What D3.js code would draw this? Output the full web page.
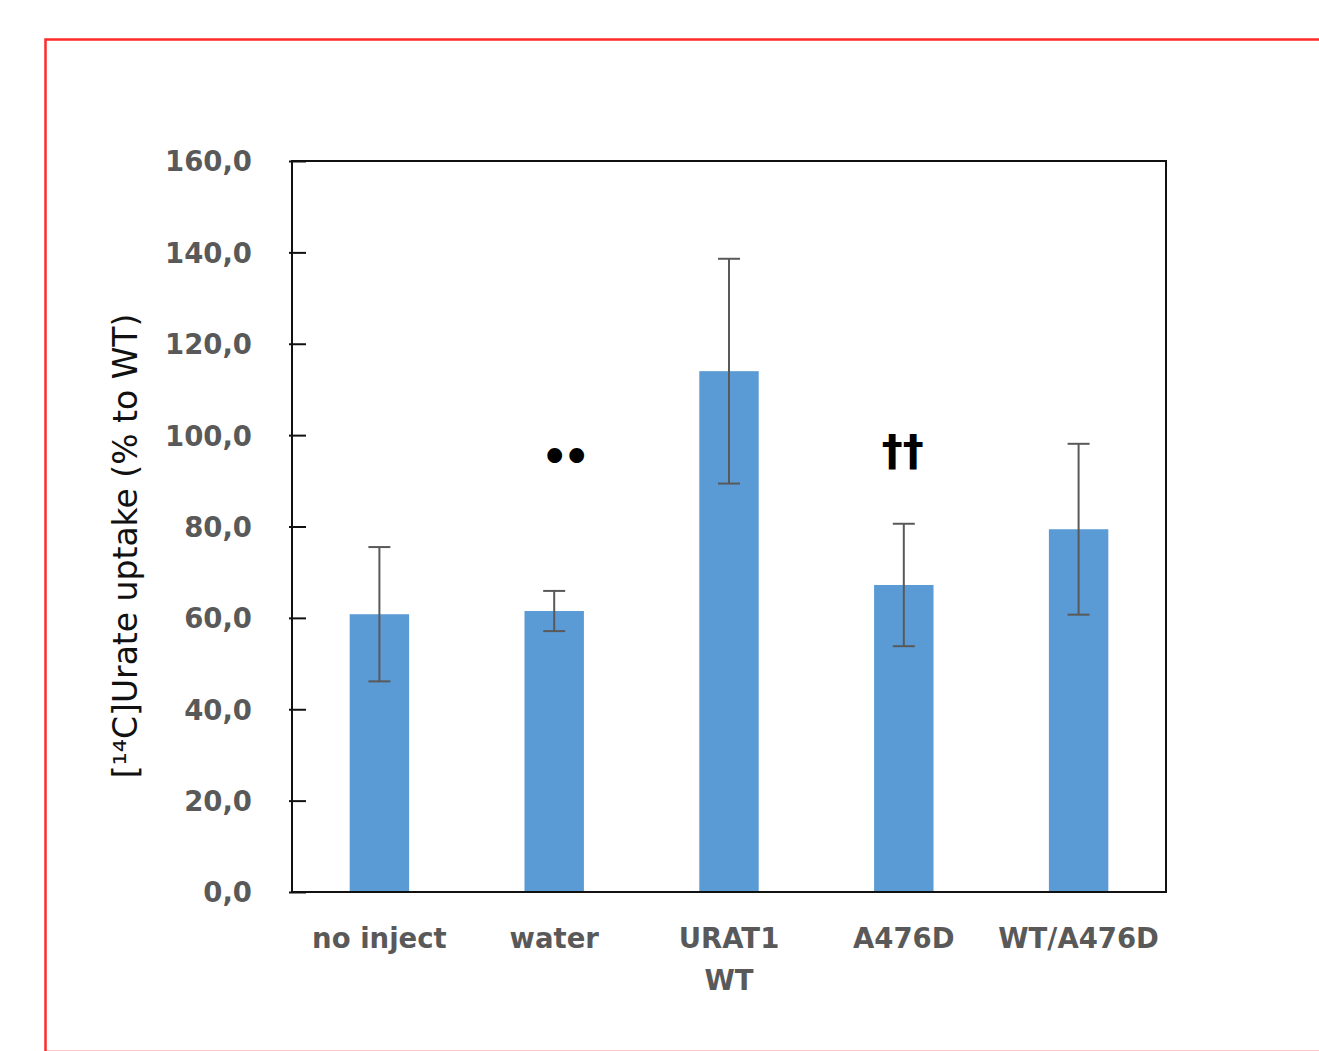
<!DOCTYPE html>
<html>
<head>
<meta charset="utf-8">
<script src="https://cdn.jsdelivr.net/npm/d3@7"></script>
<style>
  html, body { margin: 0; padding: 0; background: #fff; }
  svg { display: block; }
</style>
</head>
<body>
<svg id="chart" width="1319" height="1051"></svg>
<script>
// ---- data ----
const categories = ["no inject", "water", "URAT1\nWT", "A476D", "WT/A476D"];
const means = [60.8, 61.5, 114.0, 67.2, 79.4];
const errors = [14.7, 4.4, 24.6, 13.4, 18.7];
const yTicks = [0, 20, 40, 60, 80, 100, 120, 140, 160];
const yTickLabels = ["0,0", "20,0", "40,0", "60,0", "80,0", "100,0", "120,0", "140,0", "160,0"];
const annotationCats = ["water", "A476D"];
const annotationText = ["••", "††"];
const annotationValues = [95.3, 96.6];
const yTitle = "[¹⁴C]Urate uptake (% to WT)";

// ---- layout ----
const svg = d3.select("#chart");
const plot = { left: 292, right: 1166, top: 161, bottom: 892 };
const keys = categories.slice();

const x = d3.scaleBand().domain(keys).range([plot.left, plot.right])
  .paddingInner(0.66).paddingOuter(0.33);
const y = d3.scaleLinear().domain([0, 160]).range([plot.bottom, plot.top]);

const FONT = "'DejaVu Sans', 'Liberation Sans', Arial, sans-serif";
const GRAY = "#595959";

// red outer border
svg.append("rect")
  .attr("x", 45.5).attr("y", 39.5).attr("width", 1310).attr("height", 1012.5)
  .attr("fill", "none").attr("stroke", "#ff2a2a").attr("stroke-width", 2.5);

// bars
svg.append("g").selectAll("rect").data(means).join("rect")
  .attr("x", (d, i) => x(keys[i]))
  .attr("y", d => y(d))
  .attr("width", x.bandwidth())
  .attr("height", d => y(0) - y(d))
  .attr("fill", "#5b9bd5");

// error bars
const eb = svg.append("g").attr("stroke", GRAY).attr("stroke-width", 2).attr("fill", "none");
means.forEach((m, i) => {
  const cx = x(keys[i]) + x.bandwidth() / 2;
  const hi = y(m + errors[i]), lo = y(m - errors[i]);
  eb.append("line").attr("x1", cx).attr("x2", cx).attr("y1", hi).attr("y2", lo);
  eb.append("line").attr("x1", cx - 11).attr("x2", cx + 11).attr("y1", hi).attr("y2", hi);
  eb.append("line").attr("x1", cx - 11).attr("x2", cx + 11).attr("y1", lo).attr("y2", lo);
});

// y axis (ticks inside)
const yAxis = d3.axisLeft(y).tickValues(yTicks)
  .tickFormat((d, i) => yTickLabels[i]).tickSizeInner(-14).tickSizeOuter(0).tickPadding(40);
const gy = svg.append("g").attr("transform", `translate(${plot.left},0)`).call(yAxis);
gy.select(".domain").remove();
gy.selectAll(".tick line").attr("stroke", "#111").attr("stroke-width", 2).attr("x1", -3);
gy.selectAll(".tick text")
  .attr("fill", GRAY).attr("font-family", FONT).attr("font-weight", "bold")
  .attr("font-size", 27.5).attr("dy", "0.36em");

// plot frame
svg.append("rect")
  .attr("x", plot.left).attr("y", plot.top)
  .attr("width", plot.right - plot.left).attr("height", plot.bottom - plot.top)
  .attr("fill", "none").attr("stroke", "#111").attr("stroke-width", 2);

// x labels
const xl = svg.append("g");
categories.forEach((c, i) => {
  const cx = x(keys[i]) + x.bandwidth() / 2;
  const t = xl.append("text")
    .attr("x", cx)
    .attr("y", 948)
    .attr("text-anchor", "middle")
    .attr("fill", GRAY).attr("font-family", FONT).attr("font-weight", "bold")
    .attr("font-size", 27.5);
  c.split("\n").forEach((line, j) => {
    t.append("tspan").attr("x", cx).attr("dy", j === 0 ? 0 : 42).text(line);
  });
});

// y title
svg.append("text")
  .attr("transform", `translate(137,546) rotate(-90)`)
  .attr("text-anchor", "middle")
  .attr("fill", "#111").attr("font-family", FONT)
  .attr("font-size", 33)
  .text(yTitle);

// annotations
annotationCats.forEach((c, i) => {
  const idx = keys.indexOf(c);
  const cx = x(keys[idx]) + x.bandwidth() / 2;
  svg.append("text")
    .attr("x", cx + (i === 0 ? 9 : -1))
    .attr("y", y(annotationValues[i]))
    .attr("text-anchor", "middle")
    .attr("dominant-baseline", "central")
    .attr("letter-spacing", i === 0 ? -5 : 0)
    .attr("fill", "#000").attr("font-family", FONT).attr("font-weight", "bold")
    .attr("font-size", i === 0 ? 42 : 42)
    .text(annotationText[i]);
});
</script>
</body>
</html>
